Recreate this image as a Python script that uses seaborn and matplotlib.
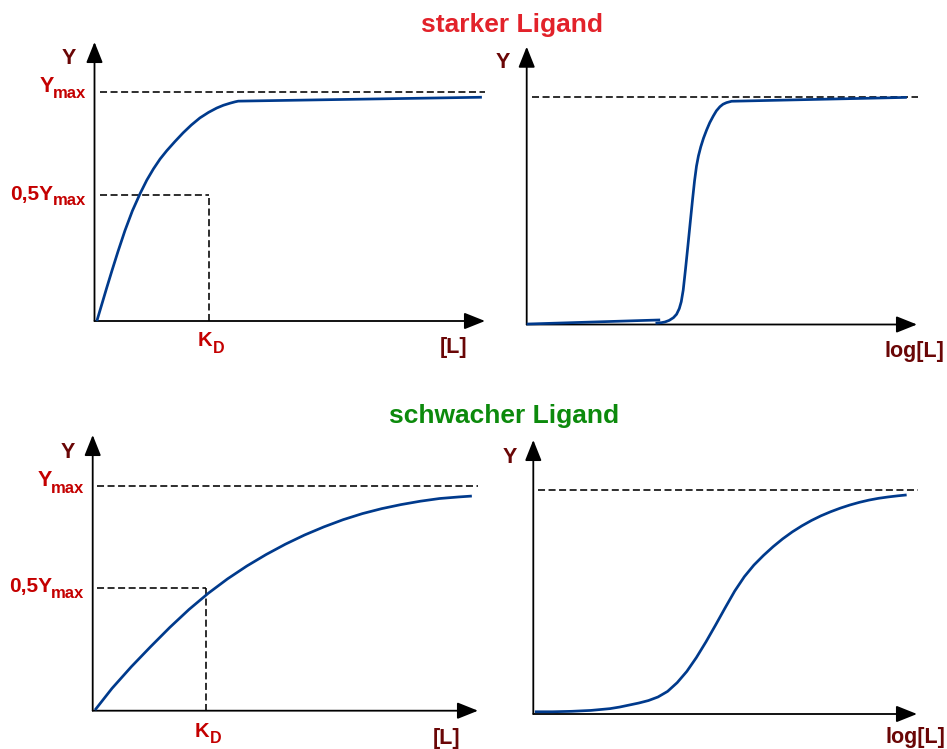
import matplotlib
matplotlib.use("Agg")
import matplotlib.pyplot as plt
import pandas as pd
import seaborn as sns

# ---------------------------------------------------------------------------
# Binding curves: x in arbitrary ligand units (axis spans 0..10), y as fraction of Ymax
# ---------------------------------------------------------------------------
Y_MAX = 1.0
X_END = 10.0

# strong ligand, linear [L]
strong_lin_x = [0.06, 0.20, 0.31, 0.45, 0.60, 0.78, 0.97, 1.17, 1.34, 1.51, 1.68, 1.85, 2.06, 2.27,
                2.48, 2.70, 2.92, 3.13, 3.30, 3.47, 3.60, 3.68, 9.92]
strong_lin_y = [0.000, 0.080, 0.143, 0.221, 0.302, 0.394, 0.480, 0.556, 0.614, 0.663, 0.706, 0.742, 0.782, 0.820,
                0.854, 0.885, 0.909, 0.928, 0.940, 0.949, 0.955, 0.958, 0.975]
strong_kd = 2.93
strong_half = 0.549

# strong ligand, log[L]
strong_log_base_x = [0.0, 3.42]
strong_log_base_y = [0.002, 0.020]
strong_log_x = [3.30, 3.45, 3.54, 3.65, 3.76, 3.84, 3.91, 3.96, 4.01, 4.07, 4.13, 4.19, 4.25, 4.30, 4.35,
                4.40, 4.46, 4.53, 4.61, 4.69, 4.78, 4.86, 4.95, 5.03, 5.12, 5.25, 9.74]
strong_log_y = [0.006, 0.008, 0.011, 0.018, 0.030, 0.045, 0.070, 0.100, 0.151, 0.245, 0.345, 0.448, 0.550,
                0.630, 0.695, 0.740, 0.780, 0.818, 0.854, 0.886, 0.915, 0.938, 0.956, 0.967, 0.974, 0.980, 0.997]

# weak ligand, linear [L]
weak_lin_x = [0.06, 0.5, 1.0, 1.5, 2.0, 2.5, 3.0, 3.5, 4.0, 4.5, 5.0, 5.5, 6.0, 6.5, 7.0, 7.5, 8.0,
              8.5, 9.0, 9.5, 9.84]
weak_lin_y = [0.003, 0.099, 0.195, 0.284, 0.370, 0.450, 0.522, 0.586, 0.643, 0.694, 0.740, 0.781, 0.817,
              0.849, 0.876, 0.898, 0.916, 0.931, 0.943, 0.950, 0.954]
weak_kd = 2.94
weak_half = 0.547

# weak ligand, log[L]
weak_log_x = [0.04, 0.5, 1.0, 1.5, 2.0, 2.25, 2.5, 2.75, 3.0, 3.25, 3.5, 3.75, 4.0, 4.25, 4.5, 4.75,
              5.0, 5.25, 5.5, 5.75, 6.0, 6.25, 6.5, 6.75, 7.0, 7.25, 7.5, 7.75, 8.0, 8.25, 8.5, 8.75,
              9.0, 9.25, 9.5, 9.73]
weak_log_y = [0.010, 0.010, 0.012, 0.016, 0.024, 0.031, 0.040, 0.049, 0.060, 0.076, 0.101, 0.140,
              0.190, 0.252, 0.322, 0.397, 0.474, 0.549, 0.613, 0.665, 0.708, 0.747, 0.782, 0.813,
              0.840, 0.864, 0.885, 0.903, 0.919, 0.933, 0.945, 0.955, 0.963, 0.969, 0.974, 0.978]

# extent of the dashed Ymax guide in each panel
ymax_guide_tl = [0.14, 10.0]
ymax_guide_tr = [0.13, 10.03]
ymax_guide_bl = [0.10, 10.0]
ymax_guide_br = [0.12, 10.02]
half_guide_start = 0.12

# texts
title_strong = "starker Ligand"
title_weak = "schwacher Ligand"
y_label = "Y"
lin_label = "[L]"
log_label = "log[L]"

# ---------------------------------------------------------------------------
sns.set_theme(style="white")
plt.rcParams["font.family"] = ["Liberation Sans", "DejaVu Sans"]
plt.rcParams["font.weight"] = "bold"

W, H = 947, 749
fig = plt.figure(figsize=(W / 100, H / 100), dpi=100)
fig.patch.set_facecolor("white")

CURVE = "#003a8c"
RED = "#c40000"
DARK = "#6a0606"
PX = 0.72          # points per pixel at 100 dpi
DESC = 0.212       # font descent as a fraction of the size

dash_kw = dict(color="black", lw=1.15, dashes=(4.4, 2.2), clip_on=False, zorder=2)


def panel(ox, oy, xtip, ytip, ymax_px):
    ax = fig.add_axes([ox / W, 1 - oy / H, (xtip - ox) / W, (oy - ytip) / H])
    ax.set_xlim(0, X_END)
    ax.set_ylim(0, (oy - ytip) / (oy - ymax_px))
    ax.axis("off")
    arrow = dict(arrowstyle="-|>,head_length=0.85,head_width=0.34", color="black",
                 lw=1.3, shrinkA=0, shrinkB=0, mutation_scale=15)
    ax.annotate("", xy=(1, 0), xytext=(0, 0), xycoords="axes fraction",
                arrowprops=arrow, annotation_clip=False, zorder=3)
    ax.annotate("", xy=(0, 1), xytext=(0, 0), xycoords="axes fraction",
                arrowprops=arrow, annotation_clip=False, zorder=3)
    return ax


def curve(ax, xs, ys):
    df = pd.DataFrame({"x": xs, "y": ys})
    sns.lineplot(data=df, x="x", y="y", ax=ax, sort=False, estimator=None,
                 color=CURVE, linewidth=1.95, legend=False)
    for ln in ax.lines:
        ln.set_clip_on(False)
        ln.set_zorder(4)
        ln.set_solid_capstyle("butt")
        ln.set_solid_joinstyle("round")
    ax.set_xlabel("")
    ax.set_ylabel("")
    ax.axis("off")


def ymax_label(ax, level, prefix, y_drop, max_drop, big=15.5, small=12.0):
    m = ax.annotate("max", xy=(0, level), xytext=(-8.5 * PX, -max_drop * PX),
                    textcoords="offset points", ha="right", va="baseline",
                    fontsize=small, color=RED, fontweight="bold", annotation_clip=False)
    lift = (max_drop - y_drop) * PX - DESC * (big - small)
    ax.annotate(prefix, xy=(0, 0), xycoords=m, xytext=(0.6, lift),
                textcoords="offset points", ha="right", va="bottom",
                fontsize=big, color=RED, fontweight="bold", annotation_clip=False)


def kd_label(ax, kd, drop, big=14.5, small=11.5):
    k = ax.annotate("K", xy=(kd, 0), xytext=(-11 * PX, -drop * PX),
                    textcoords="offset points", ha="left", va="baseline",
                    fontsize=big, color=RED, fontweight="bold", annotation_clip=False)
    lower = -6.5 * PX + DESC * (big - small)
    ax.annotate("D", xy=(1, 0), xycoords=k, xytext=(0.4, lower),
                textcoords="offset points", ha="left", va="bottom",
                fontsize=small, color=RED, fontweight="bold", annotation_clip=False)


def ftext(px, py, s, **kw):
    fig.text(px / W, 1 - py / H, s, fontweight="bold", **kw)


# --- strong ligand, linear ---
ax = panel(94.5, 321, 485, 42, 91.5)
curve(ax, strong_lin_x, strong_lin_y)
ax.plot(ymax_guide_tl, [Y_MAX, Y_MAX], **dash_kw)
ax.plot([half_guide_start + 0.02, strong_kd], [strong_half, strong_half], **dash_kw)
ax.plot([strong_kd, strong_kd], [0, strong_half], **dash_kw)
ymax_label(ax, Y_MAX, "Y", 1.8, 6.8)
ymax_label(ax, strong_half, "0,5Y", 5, 10, big=15.0)
kd_label(ax, strong_kd, 25)

# --- strong ligand, log ---
ax = panel(526.7, 324.5, 917, 46.7, 96.7)
curve(ax, strong_log_base_x, strong_log_base_y)
curve(ax, strong_log_x, strong_log_y)
ax.plot(ymax_guide_tr, [Y_MAX, Y_MAX], **dash_kw)

# --- weak ligand, linear ---
ax = panel(92.7, 710.7, 478, 435, 485.7)
curve(ax, weak_lin_x, weak_lin_y)
ax.plot(ymax_guide_bl, [Y_MAX, Y_MAX], **dash_kw)
ax.plot([half_guide_start - 0.02, weak_kd], [weak_half, weak_half], **dash_kw)
ax.plot([weak_kd, weak_kd], [0, weak_half], **dash_kw)
ymax_label(ax, Y_MAX, "Y", 1.0, 7.6)
ymax_label(ax, weak_half, "0,5Y", 4, 10.6, big=15.0)
kd_label(ax, weak_kd, 26)

# --- weak ligand, log ---
ax = panel(533.3, 714, 917, 440, 490)
curve(ax, weak_log_x, weak_log_y)
ax.plot(ymax_guide_br, [Y_MAX, Y_MAX], **dash_kw)

# axis names and titles
for px, py in [(69, 64), (503, 68), (68, 458), (509.7, 463)]:
    ftext(px, py, y_label, fontsize=15.5, color=DARK, ha="center", va="baseline")
ftext(453.5, 353.5, lin_label, fontsize=15.5, color=DARK, ha="center", va="baseline")
ftext(446.7, 744, lin_label, fontsize=15.5, color=DARK, ha="center", va="baseline")
ftext(914, 356.7, log_label, fontsize=15.5, color=DARK, ha="center", va="baseline")
ftext(915, 743.5, log_label, fontsize=15.5, color=DARK, ha="center", va="baseline")

ftext(512, 32, title_strong, fontsize=19, color="#e2222a", ha="center", va="baseline")
ftext(504, 423.3, title_weak, fontsize=19, color="#0c8a0c", ha="center", va="baseline")

fig.savefig("out.png", dpi=100, facecolor="white")
